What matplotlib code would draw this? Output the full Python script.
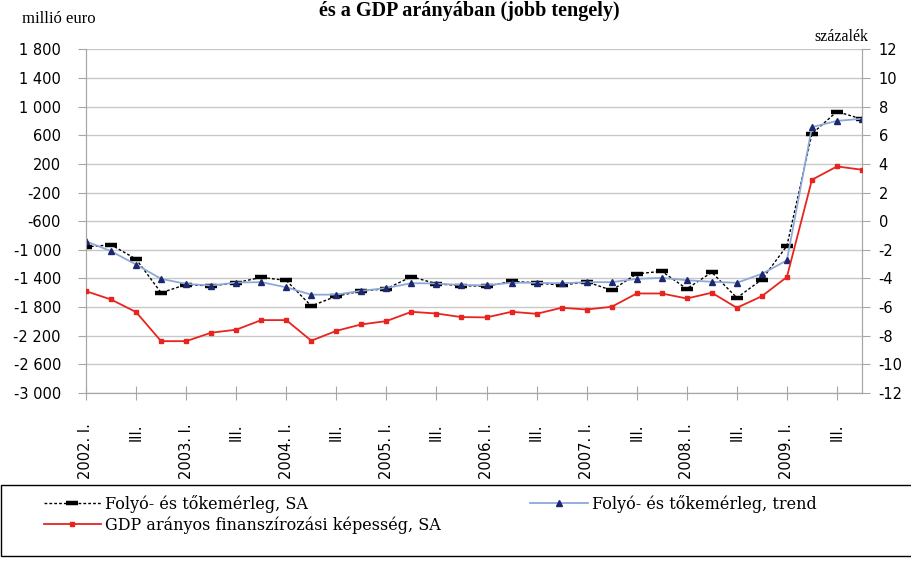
import matplotlib
matplotlib.use("Agg")
import matplotlib.pyplot as plt
from matplotlib.patches import Rectangle
from matplotlib.ticker import FuncFormatter

plt.rcParams['axes.unicode_minus'] = False

# quarters 2002 I. - 2009 IV.
quarters = []
for year in range(2002, 2010):
    for q in ["I.", "II.", "III.", "IV."]:
        quarters.append(f"{year}. {q}" if q == "I." else q)

sa = [-960, -930, -1130, -1600, -1485, -1505, -1460, -1385, -1428, -1785,
      -1648, -1575, -1545, -1375, -1475, -1502, -1508, -1440, -1461, -1495,
      -1447, -1566, -1336, -1300, -1545, -1314, -1671, -1415, -945, 620,
      931, 824]
trend = [-880, -1020, -1206, -1406, -1476, -1499, -1457, -1452, -1524, -1627,
         -1626, -1573, -1534, -1466, -1471, -1492, -1495, -1460, -1461, -1468,
         -1452, -1452, -1406, -1392, -1425, -1447, -1461, -1336, -1148, 713,
         800, 830]
gdp = [-4.89, -5.47, -6.35, -8.38, -8.38, -7.79, -7.58, -6.91, -6.91, -8.35,
       -7.66, -7.21, -6.98, -6.33, -6.45, -6.70, -6.72, -6.33, -6.47, -6.05,
       -6.17, -5.98, -5.05, -5.05, -5.40, -5.00, -6.05, -5.24, -3.90, 2.89,
       3.82, 3.59]

left_ticks = list(range(-3000, 1801, 400))
right_ticks = list(range(-12, 13, 2))

serif = "Liberation Serif"
legfont = "DejaVu Serif"
tickfont = "DejaVu Sans"
grey = "#a6a6a6"

fig = plt.figure(figsize=(9.12, 5.69), dpi=100)
ax = fig.add_axes([86/912, 1-393/569, 776/912, 343.7/569])
ax2 = ax.twinx()

x = list(range(len(quarters)))
l1, = ax.plot(x, sa, color="black", lw=1.0, linestyle=(0, (2, 1.5)),
              marker="_", ms=9, mew=3.2, zorder=3)
l2, = ax.plot(x, trend, color="#8ea9d8", lw=1.3, marker="^", ms=4.5,
              mfc="#1c2770", mec="#1c2770", zorder=4)
l3, = ax2.plot(x, gdp, color="#e8241f", lw=1.3, marker="s", ms=2.3, zorder=3)

ax.set_xlim(0, len(quarters) - 1)
ax.set_ylim(-3000, 1800)
ax2.set_ylim(-12, 12)
ax.set_yticks(left_ticks)
ax2.set_yticks(right_ticks)
ax.yaxis.set_major_formatter(FuncFormatter(lambda v, p: f"{int(v):,}".replace(",", " ")))
ax.grid(axis="y", color="#c8c8c8", lw=1.0)
ax.set_axisbelow(True)

ax.set_xticks(x[::2])
ax.set_xticklabels(quarters[::2], rotation=90, fontsize=10.5, family=tickfont, va="top")

for a in (ax, ax2):
    a.spines["top"].set_visible(False)
    for s in ("left", "right", "bottom"):
        a.spines[s].set_color(grey)
ax.tick_params(axis="y", length=6, color=grey, pad=12, labelsize=10.5)
ax2.tick_params(axis="y", length=6, color=grey, pad=6, labelsize=10.5)
ax.tick_params(axis="x", length=10, direction="inout", color=grey, pad=17)
for lab in ax.get_yticklabels() + ax2.get_yticklabels():
    lab.set_family(tickfont)

fig.text(469/912, 1-11/569, "és a GDP arányában (jobb tengely)", ha="center", va="center",
         family=serif, fontweight="bold", fontsize=14.5)
fig.text(22/912, 1-19/569, "millió euro", ha="left", va="center", family=serif, fontsize=12)
fig.text(868/912, 1-37/569, "százalék", ha="right", va="center", family=serif, fontsize=11.5)

fig.patches.append(Rectangle((1/912, 1-556/569), 911/912, 71/569, transform=fig.transFigure,
                             fill=False, edgecolor="black", lw=1.0))
fig.legend([l1, l3, l2],
           ["Folyó- és tőkemérleg, SA", "GDP arányos finanszírozási képesség, SA",
            "Folyó- és tőkemérleg, trend"],
           ncol=2, loc="upper left", bbox_to_anchor=(34/912, 1-485/569), frameon=False,
           prop={"family": legfont, "size": 11.5}, handlelength=3.6, handletextpad=0.25,
           columnspacing=5.6, labelspacing=0.25, borderpad=0.1)

fig.savefig("out.png", dpi=100)
